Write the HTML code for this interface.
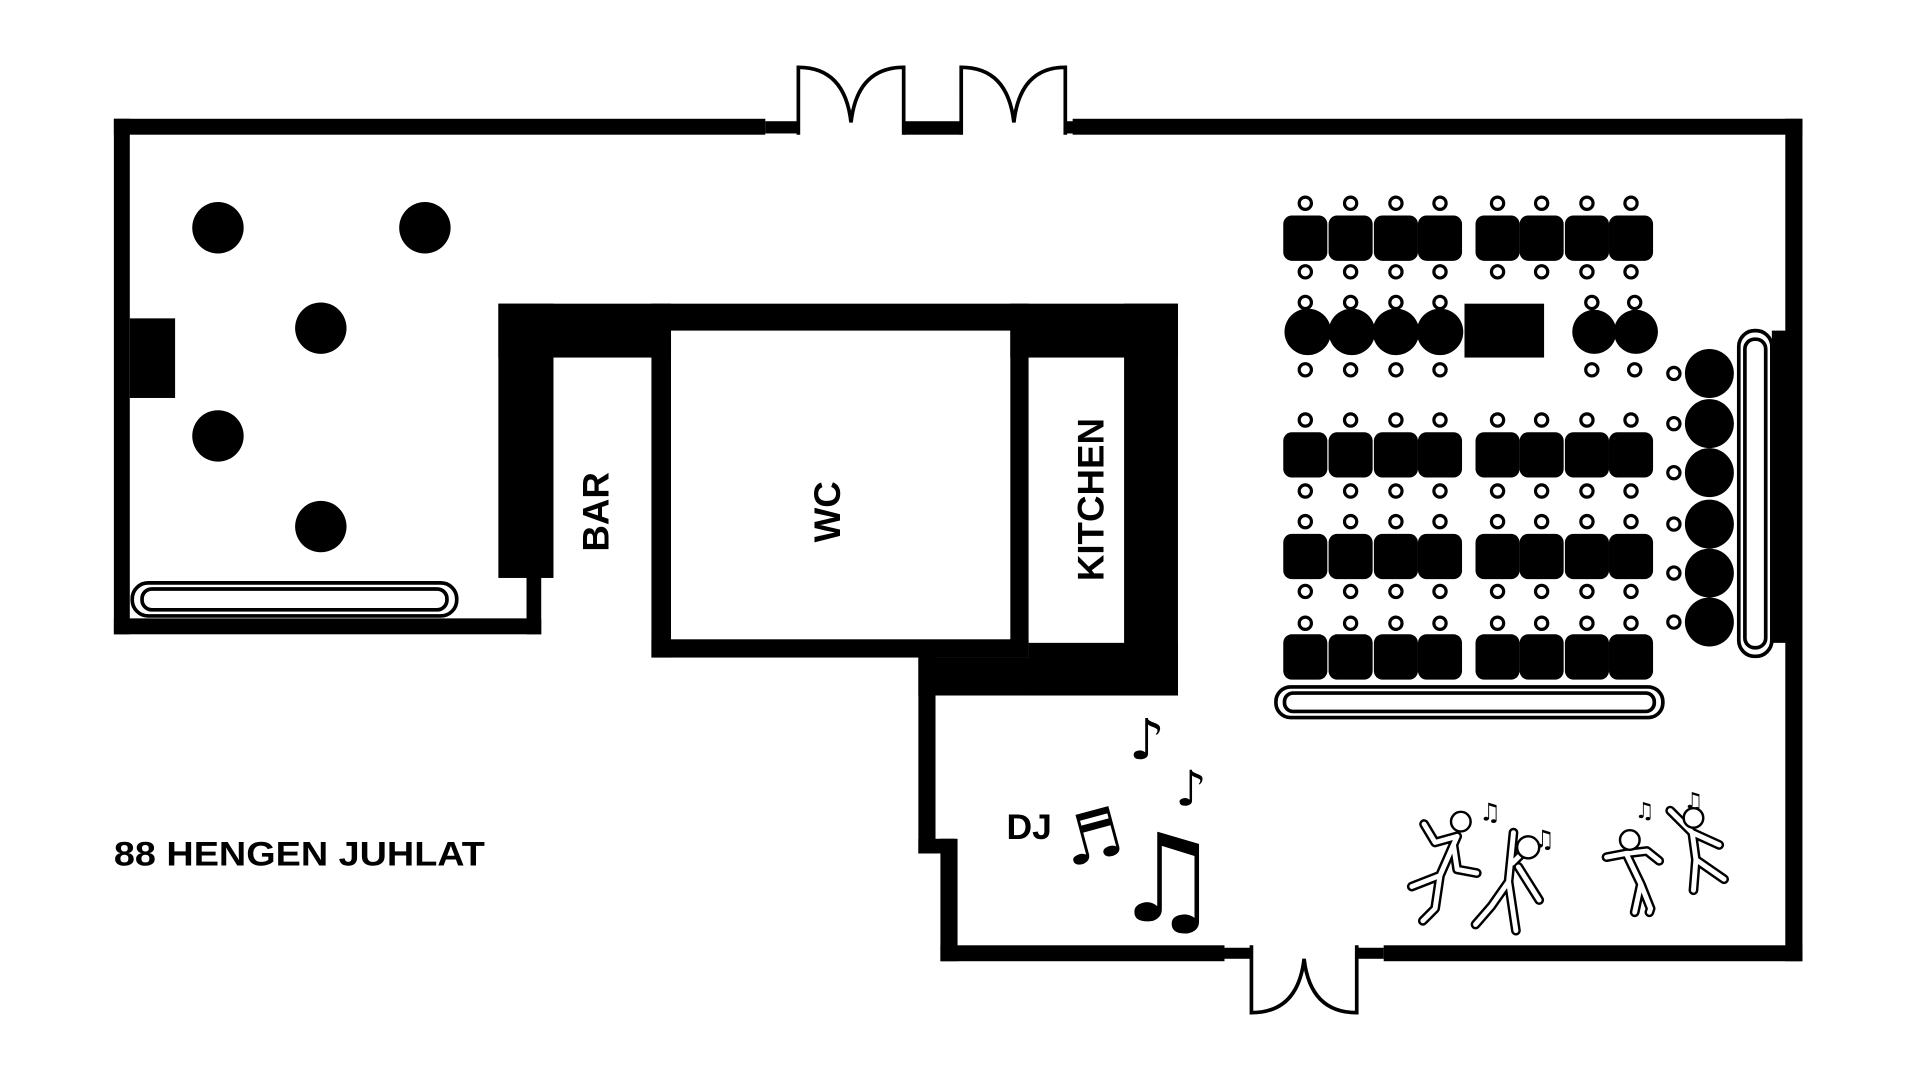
<!DOCTYPE html>
<html><head><meta charset="utf-8"><style>html,body{margin:0;padding:0;background:#fff}svg{display:block}</style></head>
<body>
<svg width="1920" height="1080" viewBox="0 0 1568 882" preserveAspectRatio="none" xmlns="http://www.w3.org/2000/svg">
<rect width="1568" height="882" fill="#fff"/>
<g fill="#000">
<rect x="93" y="97" width="532" height="13"/>
<rect x="625" y="99" width="27" height="10"/>
<rect x="738" y="99" width="47" height="11"/>
<rect x="870" y="99" width="8" height="10"/>
<rect x="876" y="97" width="596" height="13"/>
<rect x="93" y="97" width="13" height="421"/>
<rect x="93" y="505" width="349" height="13"/>
<rect x="430" y="470" width="12" height="48"/>
<rect x="106" y="260" width="37" height="65"/>
<rect x="1458" y="97" width="14" height="688"/>
<rect x="1447" y="270" width="13" height="255"/>
<rect x="768" y="772" width="232" height="13"/>
<rect x="1000" y="774" width="22" height="9"/>
<rect x="1108" y="774" width="22" height="9"/>
<rect x="1130" y="772" width="342" height="13"/>
<rect x="768" y="685" width="14" height="100"/>
<rect x="750" y="537" width="14" height="160"/>
<rect x="750" y="685" width="30" height="12"/>
<rect x="407" y="248" width="555" height="44"/>
<rect x="407" y="248" width="45" height="224"/>
<rect x="532" y="248" width="16" height="289"/>
<rect x="825" y="248" width="15" height="289"/>
<rect x="532" y="522" width="308" height="15"/>
<rect x="918" y="248" width="44" height="320"/>
<rect x="840" y="525" width="122" height="43"/>
<rect x="750" y="537" width="212" height="31"/>
</g>
<rect x="548" y="270" width="277" height="252" fill="#fff"/>
<g fill="none" stroke="#000" stroke-width="3">
<path d="M652 110 V55 Q690 55 695 100 Q700 55 738 55 V110"/>
<path d="M785 110 V55 Q823 55 828 100 Q833 55 870 55 V110"/>
<path d="M1022 772 V827 Q1060 827 1065 783 Q1070 827 1108 827 V772"/>
</g>
<g fill="#000">
<circle cx="178" cy="186" r="21"/><circle cx="347" cy="186" r="21"/>
<circle cx="262" cy="268" r="21"/><circle cx="178" cy="356" r="21"/>
<circle cx="262" cy="430" r="21"/>
</g>
<g fill="none" stroke="#000" stroke-width="3">
<rect x="108" y="476" width="265" height="27" rx="13"/>
<rect x="116" y="481" width="249" height="17" rx="8"/>
<rect x="1042" y="561" width="316" height="25" rx="12"/>
<rect x="1049" y="566" width="302" height="15" rx="7"/>
<rect x="1420" y="270" width="27" height="266" rx="13"/>
<rect x="1425" y="277" width="17" height="252" rx="8"/>
</g>
<g fill="#000">
<g id="sq">
<rect x="1048" y="176" width="36" height="37" rx="7"/><rect x="1085" y="176" width="36" height="37" rx="7"/><rect x="1122" y="176" width="36" height="37" rx="7"/><rect x="1158" y="176" width="36" height="37" rx="7"/>
<rect x="1205" y="176" width="36" height="37" rx="7"/><rect x="1241" y="176" width="36" height="37" rx="7"/><rect x="1278" y="176" width="36" height="37" rx="7"/><rect x="1314" y="176" width="36" height="37" rx="7"/>
</g>
<use href="#sq" y="177"/><use href="#sq" y="260"/><use href="#sq" y="342"/>
<circle cx="1068" cy="271" r="19"/><circle cx="1104" cy="271" r="19"/><circle cx="1140" cy="271" r="19"/><circle cx="1176" cy="271" r="19"/>
<rect x="1196" y="248" width="65" height="44"/>
<circle cx="1302" cy="271" r="18"/><circle cx="1336" cy="271" r="18"/>
<circle cx="1396" cy="305" r="20"/><circle cx="1396" cy="346" r="20"/><circle cx="1396" cy="386" r="20"/><circle cx="1396" cy="428" r="20"/><circle cx="1396" cy="468" r="20"/><circle cx="1396" cy="508" r="20"/>
</g>
<g fill="none" stroke="#000" stroke-width="2.6">
<g id="ch">
<circle cx="1066" cy="166" r="5"/><circle cx="1103" cy="166" r="5"/><circle cx="1140" cy="166" r="5"/><circle cx="1176" cy="166" r="5"/>
<circle cx="1223" cy="166" r="5"/><circle cx="1259" cy="166" r="5"/><circle cx="1296" cy="166" r="5"/><circle cx="1332" cy="166" r="5"/>
</g>
<use href="#ch" y="56"/><use href="#ch" y="177"/><use href="#ch" y="235"/><use href="#ch" y="260"/><use href="#ch" y="317"/><use href="#ch" y="343"/>
<circle cx="1066" cy="247" r="5"/><circle cx="1103" cy="247" r="5"/><circle cx="1140" cy="247" r="5"/><circle cx="1176" cy="247" r="5"/><circle cx="1300" cy="247" r="5"/><circle cx="1335" cy="247" r="5"/>
<circle cx="1066" cy="302" r="5"/><circle cx="1103" cy="302" r="5"/><circle cx="1140" cy="302" r="5"/><circle cx="1176" cy="302" r="5"/><circle cx="1300" cy="302" r="5"/><circle cx="1335" cy="302" r="5"/>
<circle cx="1367" cy="305" r="5"/><circle cx="1367" cy="346" r="5"/><circle cx="1367" cy="386" r="5"/><circle cx="1367" cy="428" r="5"/><circle cx="1367" cy="468" r="5"/><circle cx="1367" cy="508" r="5"/>
</g>
<g font-family="Liberation Sans, sans-serif" font-weight="bold" fill="#000">
<text x="93" y="707" font-size="28" textLength="303" lengthAdjust="spacingAndGlyphs">88 HENGEN JUHLAT</text>
<text x="822" y="685" font-size="29">DJ</text>
<text transform="translate(497,418) rotate(-90)" text-anchor="middle" font-size="30">BAR</text>
<text transform="translate(686,418) rotate(-90)" text-anchor="middle" font-size="30">WC</text>
<text transform="translate(901,408) rotate(-90)" text-anchor="middle" font-size="30">KITCHEN</text>
</g>
<g font-family="DejaVu Sans, sans-serif" fill="#000">
<text x="908" y="752" font-size="100">♫</text>
<text x="866" y="703" font-size="55" transform="rotate(-15 890 680)">♬</text>
<text x="922" y="620" font-size="46">♪</text>
<text x="960" y="658" font-size="40">♪</text>
<text x="1208" y="670" font-size="20">♫</text>
<text x="1252" y="692" font-size="20">♫</text>
<text x="1335" y="668" font-size="18">♫</text>
<text x="1375" y="660" font-size="18">♫</text>
</g>
<g fill="none" stroke-linecap="round" stroke-linejoin="round">
<g stroke="#000" stroke-width="8">
<path d="M1163 673 L1172 688 L1190 683 M1190 683 L1176 715 L1153 724 M1176 715 L1172 742 L1162 752 M1187 690 L1190 710 L1206 713"/>
<path d="M1236 680 L1232 720 L1218 740 L1205 755 M1232 720 L1238 760 M1235 705 L1250 690 M1240 708 L1257 735"/>
<path d="M1312 700 L1328 697 L1340 722 L1335 745 M1340 722 L1348 742 L1347 745 M1328 697 L1345 695 L1355 703"/>
<path d="M1364 662 L1382 680 L1404 690 M1382 680 L1385 702 L1383 727 M1385 702 L1408 718"/>
</g>
<g stroke="#fff" stroke-width="4">
<path d="M1163 673 L1172 688 L1190 683 M1190 683 L1176 715 L1153 724 M1176 715 L1172 742 L1162 752 M1187 690 L1190 710 L1206 713"/>
<path d="M1236 680 L1232 720 L1218 740 L1205 755 M1232 720 L1238 760 M1235 705 L1250 690 M1240 708 L1257 735"/>
<path d="M1312 700 L1328 697 L1340 722 L1335 745 M1340 722 L1348 742 L1347 745 M1328 697 L1345 695 L1355 703"/>
<path d="M1364 662 L1382 680 L1404 690 M1382 680 L1385 702 L1383 727 M1385 702 L1408 718"/>
</g>
<g stroke="#000" stroke-width="2" fill="#fff">
<circle cx="1193" cy="671" r="8"/><circle cx="1248" cy="692" r="9"/><circle cx="1331" cy="686" r="8"/><circle cx="1383" cy="668" r="8"/>
</g>
</g>
</svg>
</body></html>
